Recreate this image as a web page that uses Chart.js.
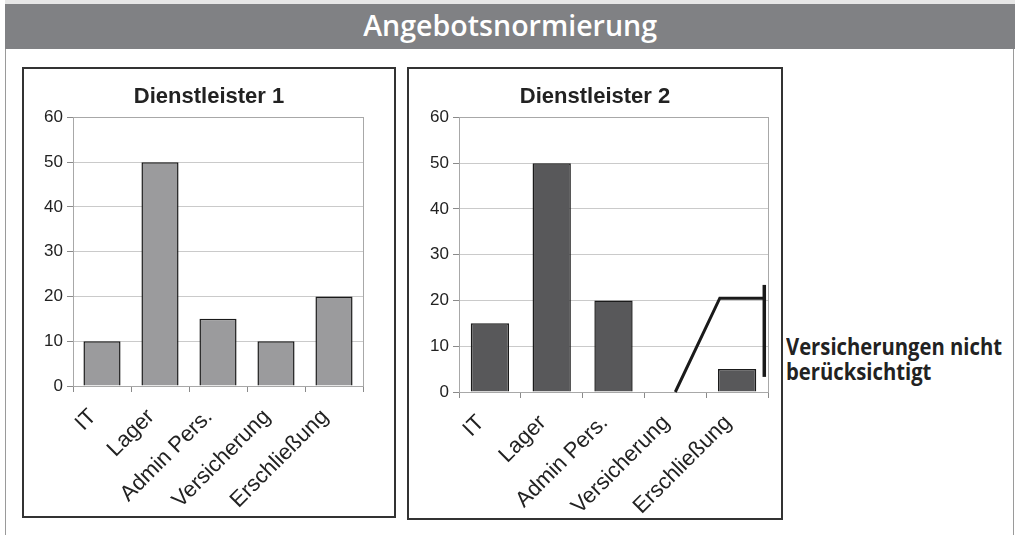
<!DOCTYPE html>
<html>
<head>
<meta charset="utf-8">
<script src="https://cdn.jsdelivr.net/npm/chart.js@4.4.1/dist/chart.umd.min.js"></script>
<style>
  body { margin: 0; background: #fff; width: 1015px; height: 535px; position: relative; overflow: hidden; }
  #topline { position: absolute; left: 5px; top: 0; width: 1010px; height: 4px; background: #e6e6e6; }
  #header { position: absolute; left: 5px; top: 4px; width: 1010px; height: 45px; background: #808184; }
  #headerText { position: absolute; left: 0; right: 0; top: 4px; text-align: center; color: #fff;
    font-family: 'Open Sans', sans-serif; font-weight: 600; font-size: 29px; line-height: 34px; }
  #headerText span, #note span { display: inline-block; transform-origin: left center; white-space: nowrap; }
  #headerText span { transform-origin: center center; }
  #frameL { position: absolute; left: 5px; top: 49px; width: 1px; height: 486px; background: #9a9a9a; }
  #frameR { position: absolute; left: 1013px; top: 49px; width: 1px; height: 486px; background: #9a9a9a; }
  .box { position: absolute; border: 2px solid #333; background: #fff; }
  #box1 { left: 22px; top: 67px; width: 370px; height: 447px; }
  #box2 { left: 407px; top: 67px; width: 372px; height: 449px; }
  .box canvas { display: block; }
  #note { position: absolute; left: 786px; top: 334px; color: #222;
    font-family: 'Open Sans', sans-serif; font-weight: 700; font-size: 23px; line-height: 25px; }
</style>
</head>
<body>
<div id="topline"></div>
<div id="header"><div id="headerText"><span id="hdr">Angebotsnormierung</span></div></div>
<div id="frameL"></div>
<div id="frameR"></div>
<div class="box" id="box1"><canvas id="chart1" width="370" height="447"></canvas></div>
<div class="box" id="box2"><canvas id="chart2" width="372" height="449"></canvas></div>
<div id="note"><span id="n1">Versicherungen nicht</span><br><span id="n2">berücksichtigt</span></div>
<script>
const categories = ['IT', 'Lager', 'Admin Pers.', 'Versicherung', 'Erschließung'];
const dienstleister1 = [10, 50, 15, 10, 20];
const dienstleister2 = [15, 50, 20, null, 5];
const yMin = 0;
const yMax = 60;
const yStep = 10;
// annotation in chart 2, in (category index, value) units
const notePath = [[3, 0], [3.72, 20.5], [4.44, 20.5]];
const noteBar = [[4.44, 23.4], [4.44, 3.3]];

// squeeze text to the widths seen in the picture
function fit(id, w) {
  const el = document.getElementById(id);
  el.style.transform = 'scaleX(' + (w / el.getBoundingClientRect().width) + ')';
}
fit('hdr', 294);
fit('n1', 216);
const n2 = document.getElementById('n2');
n2.style.transform = document.getElementById('n1').style.transform;

const FONT = "'Liberation Sans', Arial, sans-serif";

const plotFrame = {
  id: 'plotFrame',
  beforeDatasetsDraw(chart) {
    const a = chart.chartArea, c = chart.ctx;
    c.save();
    c.strokeStyle = '#a8a8a8';
    c.lineWidth = 1;
    c.strokeRect(Math.round(a.left) + 0.5, Math.round(a.top) + 0.5, Math.round(a.right - a.left), Math.round(a.bottom - a.top));
    c.restore();
  }
};

const noteLines = {
  id: 'noteLines',
  afterDatasetsDraw(chart) {
    const x = chart.scales.x, y = chart.scales.y, c = chart.ctx;
    c.save();
    c.strokeStyle = '#1a1a1a';
    c.lineWidth = 3;
    c.lineJoin = 'miter';
    c.beginPath();
    notePath.forEach((p, i) => {
      const px = x.getPixelForValue(p[0]), py = y.getPixelForValue(p[1]);
      if (i === 0) c.moveTo(px, py); else c.lineTo(px, py);
    });
    c.stroke();
    c.lineWidth = 3.5;
    c.beginPath();
    c.moveTo(x.getPixelForValue(noteBar[0][0]), y.getPixelForValue(noteBar[0][1]));
    c.lineTo(x.getPixelForValue(noteBar[1][0]), y.getPixelForValue(noteBar[1][1]));
    c.stroke();
    c.restore();
  }
};

function makeChart(id, title, values, color, barPct, xHeight, yWidth, rightWidth, extra) {
  return new Chart(document.getElementById(id), {
    type: 'bar',
    data: {
      labels: categories,
      datasets: [{
        data: values,
        backgroundColor: color,
        borderColor: '#1a1a1a',
        borderWidth: 1.5,
        categoryPercentage: 1,
        barPercentage: barPct
      }]
    },
    options: {
      responsive: false,
      animation: false,
      devicePixelRatio: 1,
      layout: { padding: 0 },
      plugins: {
        legend: { display: false },
        tooltip: { enabled: false },
        title: {
          display: true,
          text: title,
          color: '#222',
          font: { family: FONT, size: 22, weight: 'bold' },
          padding: { top: 15, bottom: 7 }
        }
      },
      scales: {
        x: {
          offset: true,
          afterFit(s) { s.height = xHeight; },
          grid: { display: true, offset: true, drawOnChartArea: false, drawTicks: true, tickLength: 6, color: '#8a8a8a', lineWidth: 1 },
          border: { display: true, color: '#8a8a8a', width: 1 },
          ticks: { color: '#222', font: { family: FONT, size: 22 }, minRotation: 45, maxRotation: 45, padding: 12, labelOffset: -9, autoSkip: false }
        },
        y: {
          min: yMin,
          max: yMax,
          afterFit(s) { s.width = yWidth; },
          grid: { color: '#cacaca', lineWidth: 1, tickColor: '#8a8a8a', tickLength: 6 },
          border: { display: true, color: '#8a8a8a', width: 1 },
          ticks: { stepSize: yStep, color: '#222', font: { family: FONT, size: 17 }, padding: 4 }
        },
        // empty right-hand spacer so the title centres over the whole box
        spacer: {
          position: 'right',
          afterFit(s) { s.width = rightWidth; },
          grid: { display: false },
          border: { display: false },
          ticks: { display: false }
        }
      }
    },
    plugins: extra
  });
}

makeChart('chart1', 'Dienstleister 1', dienstleister1, '#9b9b9d', 0.64, 130, 49, 31, [plotFrame]);
makeChart('chart2', 'Dienstleister 2', dienstleister2, '#58585a', 0.62, 126, 50, 13, [plotFrame, noteLines]);
</script>
</body>
</html>
